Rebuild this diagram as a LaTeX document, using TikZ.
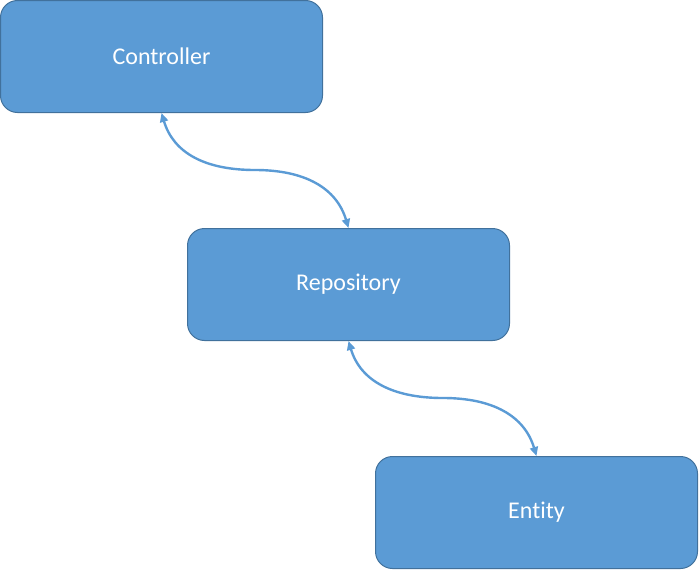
\documentclass[tikz,border=0pt]{standalone}
\usepackage{fontspec}
\setmainfont[Ligatures=NoCommon]{Carlito}
\usetikzlibrary{arrows.meta,calc}
\definecolor{boxfill}{HTML}{5B9BD5}
\definecolor{boxline}{HTML}{41719C}
\tikzset{
  box/.style={draw=boxline, line width=1pt, fill=boxfill, rounded corners=17pt,
    minimum width=322pt, minimum height=112pt, inner sep=0pt,
    text=white, font=\fontsize{24pt}{28pt}\selectfont},
  link/.style={draw=boxfill, line width=2.4pt,
    {Triangle[length=9pt,width=8pt]}-{Triangle[length=9pt,width=8pt]}}
}
\begin{document}
\begin{tikzpicture}[x=1pt,y=-1pt]
\useasboundingbox (0,0) rectangle (699,570);
\node[box] (ctrl) at (161.5,56.5) {Controller};
\node[box] (repo) at (348.5,284.5) {Repository};
\node[box] (ent) at (536.5,512.5) {Entity};
\coordinate (m1) at (255,170);
\coordinate (m2) at (443,398);
\draw[link] (ctrl.south) .. controls ($(ctrl.south)+(12,40)$) and (205,170) .. (m1)
  .. controls (305,170) and ($(repo.north)+(-12,-40)$) .. (repo.north);
\draw[link] (repo.south) .. controls ($(repo.south)+(12,40)$) and (393,398) .. (m2)
  .. controls (493,398) and ($(ent.north)+(-12,-40)$) .. (ent.north);
\end{tikzpicture}
\end{document}
